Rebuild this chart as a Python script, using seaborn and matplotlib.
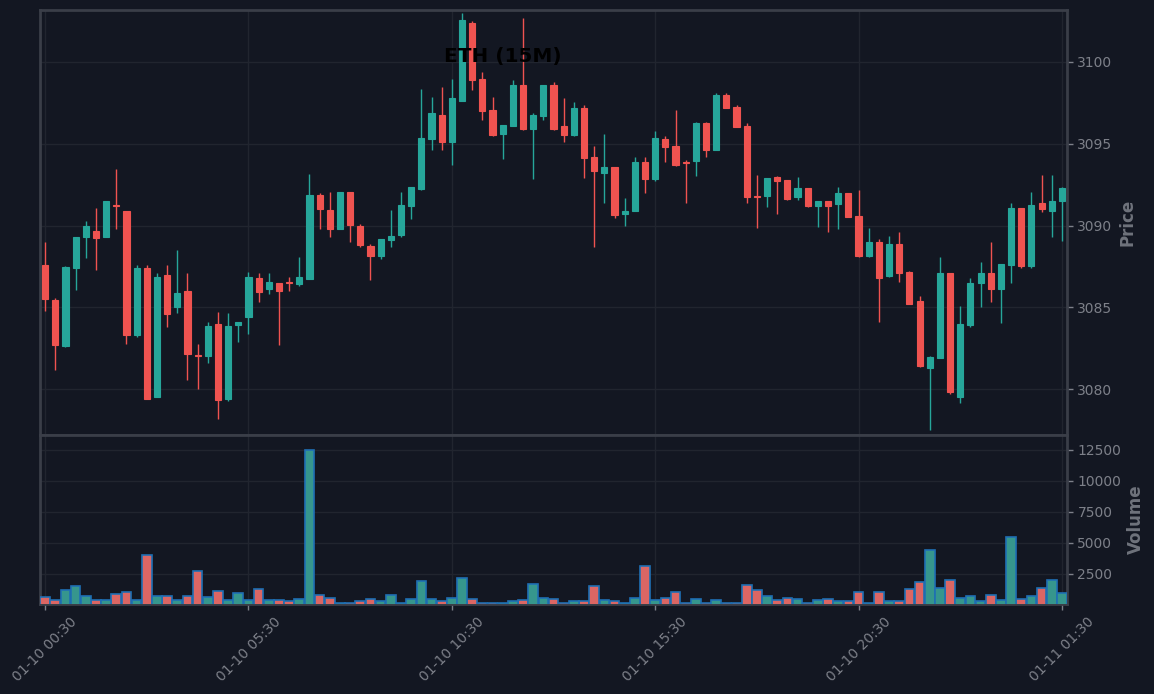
import numpy as np
import pandas as pd
import matplotlib
matplotlib.use("Agg")
import matplotlib.pyplot as plt
from matplotlib.ticker import MultipleLocator
import seaborn as sns

# --- data (15 minute candles, 01-10 00:30 .. 01-11 01:30) ---
opens = [3087.58, 3085.44, 3082.65, 3087.42, 3089.32, 3089.66, 3089.32, 3091.25, 3090.89, 3083.32,
         3087.40, 3079.53, 3086.97, 3085.03, 3085.99, 3082.08, 3082.04, 3083.98, 3079.41, 3083.94,
         3084.42, 3086.79, 3086.13, 3086.48, 3086.53, 3086.42, 3086.75, 3091.87, 3090.95, 3089.80,
         3092.05, 3089.97, 3088.75, 3088.15, 3089.13, 3089.44, 3091.21, 3092.25, 3095.31, 3096.76,
         3095.13, 3097.63, 3102.39, 3098.96, 3097.06, 3095.61, 3096.10, 3098.59, 3095.92, 3096.72,
         3098.59, 3096.09, 3095.55, 3097.19, 3094.19, 3093.23, 3093.58, 3090.72, 3090.91, 3093.88,
         3092.86, 3095.29, 3094.86, 3093.88, 3093.96, 3096.27, 3094.64, 3097.98, 3097.25, 3096.09,
         3091.83, 3091.82, 3092.97, 3092.78, 3091.76, 3092.29, 3091.21, 3091.50, 3091.33, 3091.99,
         3090.58, 3088.15, 3088.99, 3086.93, 3088.87, 3087.16, 3085.38, 3081.30, 3081.91, 3087.09,
         3079.53, 3083.94, 3086.50, 3087.09, 3086.13, 3087.60, 3091.07, 3087.54, 3091.38, 3090.91,
         3091.52]
highs = [3088.99, 3085.56, 3087.50, 3089.30, 3090.28, 3091.05, 3091.50, 3093.44, 3090.90, 3087.57,
         3087.57, 3087.08, 3087.57, 3088.50, 3087.08, 3082.73, 3084.12, 3084.73, 3084.63, 3084.10,
         3087.14, 3087.08, 3087.08, 3086.50, 3086.85, 3088.07, 3093.13, 3091.97, 3092.03, 3092.05,
         3092.05, 3090.09, 3088.85, 3089.17, 3090.93, 3092.03, 3092.35, 3098.33, 3097.84, 3098.45,
         3098.94, 3102.98, 3102.51, 3099.37, 3097.84, 3096.15, 3098.90, 3102.67, 3096.86, 3098.60,
         3098.76, 3097.78, 3097.54, 3097.35, 3094.84, 3095.58, 3093.60, 3091.66, 3094.17, 3094.17,
         3095.76, 3095.46, 3097.05, 3094.01, 3096.30, 3096.30, 3098.10, 3098.10, 3097.37, 3096.25,
         3093.07, 3092.91, 3093.00, 3092.80, 3092.97, 3092.30, 3091.50, 3091.50, 3092.35, 3092.00,
         3092.17, 3089.83, 3089.16, 3089.34, 3089.58, 3087.20, 3085.67, 3082.00, 3088.06, 3087.10,
         3085.06, 3086.77, 3087.75, 3088.97, 3087.65, 3091.36, 3091.10, 3092.03, 3093.09, 3093.09,
         3092.34]
lows = [3084.77, 3081.16, 3082.60, 3086.04, 3088.03, 3087.26, 3089.30, 3089.77, 3082.73, 3083.20,
        3079.40, 3079.50, 3083.77, 3084.63, 3080.53, 3079.98, 3081.57, 3078.15, 3079.25, 3082.86,
        3083.35, 3085.34, 3085.83, 3082.71, 3086.01, 3086.32, 3086.70, 3089.80, 3089.31, 3089.80,
        3089.01, 3088.67, 3086.65, 3087.93, 3088.67, 3089.31, 3090.42, 3092.20, 3094.64, 3094.64,
        3093.68, 3097.60, 3098.31, 3096.43, 3095.50, 3094.05, 3096.10, 3095.86, 3092.86, 3096.43,
        3095.86, 3095.09, 3095.50, 3092.92, 3088.67, 3091.36, 3090.44, 3089.95, 3090.90, 3091.97,
        3092.74, 3093.87, 3093.66, 3091.36, 3093.05, 3094.21, 3094.60, 3097.20, 3096.00, 3091.36,
        3089.83, 3091.15, 3090.68, 3091.54, 3091.54, 3091.15, 3089.93, 3089.58, 3089.80, 3090.50,
        3088.10, 3088.10, 3084.10, 3086.83, 3086.53, 3085.20, 3081.33, 3077.47, 3081.90, 3079.68,
        3079.13, 3083.79, 3085.03, 3085.34, 3084.05, 3086.50, 3087.42, 3087.42, 3090.84, 3089.28,
        3089.03]
closes = [3085.50, 3082.69, 3087.46, 3089.30, 3089.97, 3089.25, 3091.50, 3091.19, 3083.32, 3087.40,
          3079.41, 3086.85, 3084.61, 3085.87, 3082.16, 3082.02, 3083.85, 3079.35, 3083.85, 3084.10,
          3086.85, 3085.95, 3086.54, 3086.01, 3086.48, 3086.85, 3091.87, 3091.01, 3089.80, 3092.05,
          3090.05, 3088.83, 3088.15, 3089.17, 3089.36, 3091.25, 3092.35, 3095.35, 3096.88, 3095.13,
          3097.80, 3102.57, 3098.92, 3097.02, 3095.55, 3096.15, 3098.59, 3095.92, 3096.76, 3098.59,
          3095.92, 3095.55, 3097.19, 3094.15, 3093.35, 3093.58, 3090.66, 3090.89, 3093.88, 3092.86,
          3095.35, 3094.82, 3093.72, 3093.82, 3096.27, 3094.64, 3097.98, 3097.20, 3096.04, 3091.76,
          3091.77, 3092.91, 3092.74, 3091.64, 3092.29, 3091.21, 3091.50, 3091.21, 3091.99, 3090.54,
          3088.15, 3088.99, 3086.81, 3088.87, 3087.11, 3085.22, 3081.42, 3081.96, 3087.09, 3079.83,
          3083.98, 3086.48, 3087.09, 3086.13, 3087.65, 3091.07, 3087.54, 3091.25, 3091.03, 3091.50,
          3092.29]
volumes = [578, 385, 1140, 1461, 658, 385, 337, 819, 980, 337,
           4031, 658, 658, 337, 658, 2746, 602, 1060, 337, 899,
           337, 1220, 337, 337, 257, 418, 12463, 739, 498, 150,
           150, 257, 418, 257, 739, 150, 418, 1943, 418, 257,
           498, 2184, 418, 150, 150, 150, 257, 337, 1622, 498,
           418, 150, 257, 257, 1461, 337, 257, 150, 498, 3148,
           337, 498, 980, 150, 418, 150, 337, 150, 150, 1540,
           1140, 658, 337, 498, 418, 150, 337, 418, 257, 257,
           980, 150, 980, 257, 257, 1220, 1863, 4432, 1301, 2024,
           498, 658, 257, 739, 337, 5476, 418, 658, 1301, 2024,
           899]
tick_pos = [0, 20, 40, 60, 80, 100]
tick_labels = ["01-10 00:30", "01-10 05:30", "01-10 10:30",
               "01-10 15:30", "01-10 20:30", "01-11 01:30"]
title = "ETH (15M)"

# --- colours ---
BG = "#131722"
UP = "#26a69a"
DOWN = "#ef5350"
GRID = "#21252f"
SPINE = "#3a3e48"
TXT = "#7d8089"

sns.set_theme(style="ticks", rc={
    "figure.facecolor": BG,
    "axes.facecolor": BG,
    "axes.edgecolor": SPINE,
    "axes.linewidth": 2,
    "grid.color": GRID,
    "grid.linewidth": 1,
    "xtick.color": TXT,
    "ytick.color": TXT,
    "axes.labelcolor": "#6f737c",
})

df = pd.DataFrame({"open": opens, "high": highs, "low": lows,
                   "close": closes, "volume": volumes})
df["idx"] = np.arange(len(df))
df["dir"] = np.where(df["close"] >= df["open"], "up", "down")
colors = df["dir"].map({"up": UP, "down": DOWN}).tolist()

fig = plt.figure(figsize=(11.54, 6.94), dpi=100)
ax_p = fig.add_axes([0.0347, 0.3732, 0.8899, 0.6124])
ax_v = fig.add_axes([0.0347, 0.1297, 0.8899, 0.2435], sharex=ax_p)

# candles: wicks + bodies
ax_p.vlines(df["idx"], df["low"], df["high"], colors=colors, linewidth=1, zorder=2)
body_lo = df[["open", "close"]].min(axis=1)
body_h = (df["close"] - df["open"]).abs()
ax_p.bar(df["idx"], body_h, bottom=body_lo, width=0.6, color=colors,
         edgecolor=colors, linewidth=0.8, zorder=3)

# volume
sns.barplot(data=df, x="idx", y="volume", hue="dir", palette={"up": UP, "down": DOWN},
            native_scale=True, dodge=False, width=0.95, errorbar=None, legend=False,
            edgecolor="#1f6fb4", linewidth=1.2, ax=ax_v, zorder=3)

for ax in (ax_p, ax_v):
    ax.grid(True, zorder=0)
    ax.set_axisbelow(True)
    ax.yaxis.tick_right()
    ax.yaxis.set_label_position("right")
    ax.tick_params(axis="y", labelsize=10, length=4, width=1, colors=TXT)
    for sp in ax.spines.values():
        sp.set_color(SPINE)
        sp.set_linewidth(2)

ax_p.set_xlim(-0.5, len(df) - 0.5)
ax_p.set_ylim(3077.19, 3103.18)
ax_p.yaxis.set_major_locator(MultipleLocator(5))
ax_p.set_ylabel("Price", fontsize=12, fontweight="bold", labelpad=4)
ax_p.set_xlabel("")
ax_p.tick_params(axis="x", bottom=False, labelbottom=False)

ax_v.set_ylim(0.3 * min(volumes), 1.1 * max(volumes))
ax_v.yaxis.set_major_locator(MultipleLocator(2500))
ax_v.set_ylabel("Volume", fontsize=12, fontweight="bold", labelpad=4)
ax_v.set_xlabel("")
ax_v.set_xticks(tick_pos)
ax_v.set_xticklabels(tick_labels, rotation=45, fontsize=10)
ax_v.tick_params(axis="x", length=4, width=1, colors=TXT)
ax_v.set_xlim(-0.5, len(df) - 0.5)

fig.text(0.436, 0.919, title, ha="center", va="center", fontsize=14.4,
         fontweight="bold", color="black")

fig.savefig("out.png", dpi=100, facecolor=BG)
